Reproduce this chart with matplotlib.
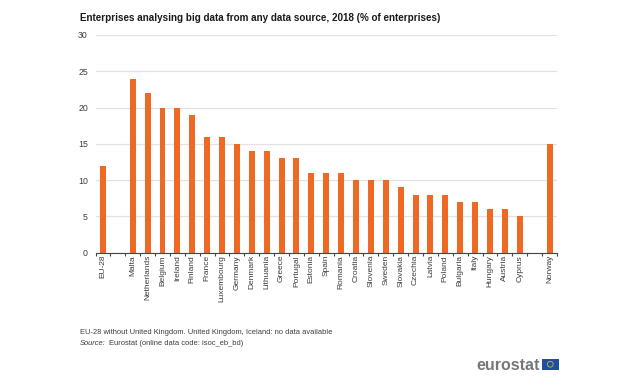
import numpy as np
import matplotlib
matplotlib.use("Agg")
matplotlib.rcParams.update({"font.family": ["Liberation Sans", "DejaVu Sans"]})
import matplotlib.pyplot as plt
from matplotlib.patches import Rectangle, Circle

# blank strings are the gaps between EU-28, the member states and Norway
countries = ["EU-28", "", "Malta", "Netherlands", "Belgium", "Ireland", "Finland",
             "France", "Luxembourg", "Germany", "Denmark", "Lithuania", "Greece",
             "Portugal", "Estonia", "Spain", "Romania", "Croatia", "Slovenia",
             "Sweden", "Slovakia", "Czechia", "Latvia", "Poland", "Bulgaria",
             "Italy", "Hungary", "Austria", "Cyprus", "", "Norway"]
values = [12, 0, 24, 22, 20, 20, 19, 16, 16, 15, 14, 14, 13, 13, 11, 11, 11,
          10, 10, 10, 9, 8, 8, 8, 7, 7, 6, 6, 5, 0, 15]
yticks = [0, 5, 10, 15, 20, 25, 30]

TEXT = "#3c3c3c"
W, H = 640, 386

fig = plt.figure(figsize=(W / 100, H / 100), dpi=100)
ax = fig.add_axes([95.5 / W, 1 - 252.5 / H, 461.5 / W, 217.5 / H])

x = np.arange(len(countries))
ax.bar(x, values, width=0.4, color="#ee6a24", zorder=3)

ax.set_xlim(-0.5, len(countries) - 0.5)
ax.set_ylim(0, 30)

ax.set_yticks(yticks)
ax.tick_params(axis="y", length=0, labelsize=6.3, labelcolor=TEXT, pad=5.5)
ax.grid(axis="y", color="#e2e2e2", linewidth=0.9, zorder=0)

# ticks sit between the categories, labels on the categories
ax.set_xticks(np.arange(len(countries) + 1) - 0.5)
ax.set_xticklabels([])
ax.tick_params(axis="x", which="major", length=2.5, width=0.8, color="#444444")
ax.set_xticks(x, minor=True)
ax.set_xticklabels(countries, minor=True, rotation=90, fontsize=6.0, color=TEXT)
ax.tick_params(axis="x", which="minor", length=0, pad=1.8)

for side in ["top", "left", "right"]:
    ax.spines[side].set_visible(False)
ax.spines["bottom"].set_color("#444444")
ax.spines["bottom"].set_linewidth(0.8)

fig.text(80 / W, 1 - 18 / H, "Enterprises analysing big data from any data source, 2018 (% of enterprises)",
         fontsize=7.13, fontweight="bold", color="#1a1a1a", va="center")
fig.text(80 / W, 1 - 333 / H, "EU-28 without United Kingdom. United Kingdom, Iceland: no data available",
         fontsize=5.42, color=TEXT, va="center")
fig.text(80 / W, 1 - 343.5 / H, "Source:", fontsize=5.42, style="italic", color=TEXT, va="center")
fig.text(109 / W, 1 - 343.5 / H, "Eurostat (online data code: isoc_eb_bd)",
         fontsize=5.42, color=TEXT, va="center")

# eurostat logo
fig.text(540 / W, 1 - 365 / H, "eurostat", fontsize=11.5, fontweight="bold", color="#75777a",
         ha="right", va="center")
flag = fig.add_axes([542 / W, 1 - 369.5 / H, 16.5 / W, 10.5 / H])
flag.set_xlim(0, 17)
flag.set_ylim(0, 11)
flag.axis("off")
flag.add_patch(Rectangle((0, 0), 17, 11, color="#1f4e9c"))
flag.add_patch(Circle((8.5, 5.5), 3, fill=False, ec="#c9b458", lw=0.6))

fig.savefig("out.png", dpi=100)
